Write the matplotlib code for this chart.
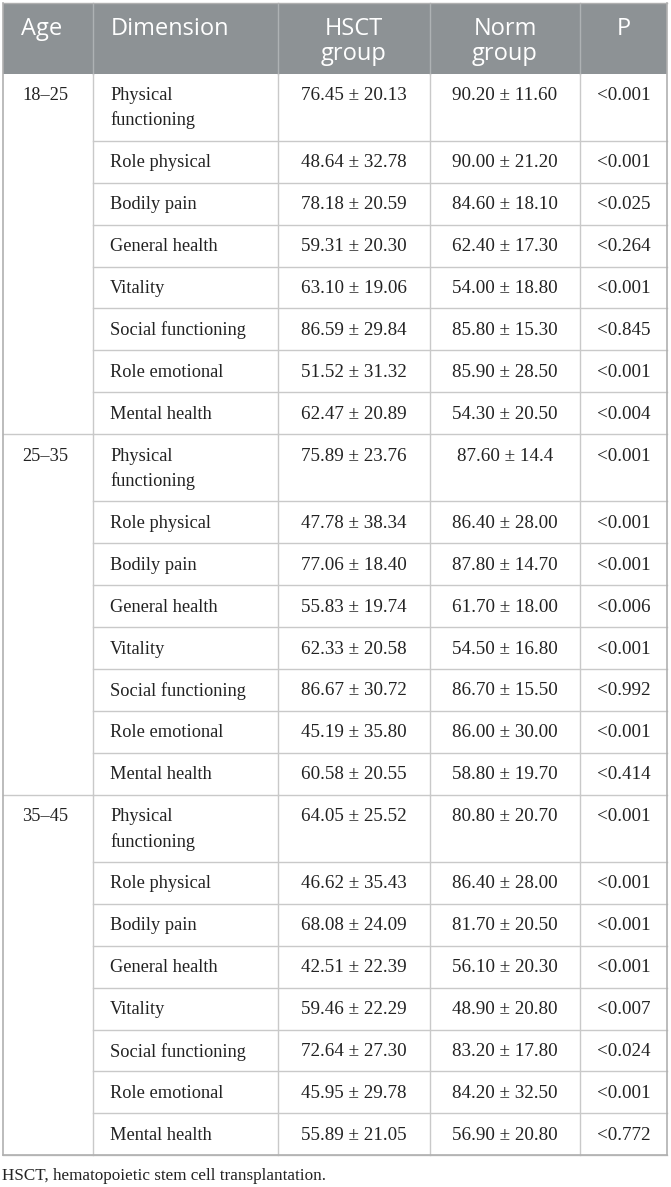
import matplotlib.pyplot as plt
from matplotlib.patches import Rectangle

ages = ["18\u201325", "25\u201335", "35\u201345"]
dimensions = ["Physical\nfunctioning", "Role physical", "Bodily pain", "General health",
              "Vitality", "Social functioning", "Role emotional", "Mental health"]
hsct = [
    ["76.45 \u00b1 20.13", "48.64 \u00b1 32.78", "78.18 \u00b1 20.59", "59.31 \u00b1 20.30",
     "63.10 \u00b1 19.06", "86.59 \u00b1 29.84", "51.52 \u00b1 31.32", "62.47 \u00b1 20.89"],
    ["75.89 \u00b1 23.76", "47.78 \u00b1 38.34", "77.06 \u00b1 18.40", "55.83 \u00b1 19.74",
     "62.33 \u00b1 20.58", "86.67 \u00b1 30.72", "45.19 \u00b1 35.80", "60.58 \u00b1 20.55"],
    ["64.05 \u00b1 25.52", "46.62 \u00b1 35.43", "68.08 \u00b1 24.09", "42.51 \u00b1 22.39",
     "59.46 \u00b1 22.29", "72.64 \u00b1 27.30", "45.95 \u00b1 29.78", "55.89 \u00b1 21.05"],
]
norm = [
    ["90.20 \u00b1 11.60", "90.00 \u00b1 21.20", "84.60 \u00b1 18.10", "62.40 \u00b1 17.30",
     "54.00 \u00b1 18.80", "85.80 \u00b1 15.30", "85.90 \u00b1 28.50", "54.30 \u00b1 20.50"],
    ["87.60 \u00b1 14.4", "86.40 \u00b1 28.00", "87.80 \u00b1 14.70", "61.70 \u00b1 18.00",
     "54.50 \u00b1 16.80", "86.70 \u00b1 15.50", "86.00 \u00b1 30.00", "58.80 \u00b1 19.70"],
    ["80.80 \u00b1 20.70", "86.40 \u00b1 28.00", "81.70 \u00b1 20.50", "56.10 \u00b1 20.30",
     "48.90 \u00b1 20.80", "83.20 \u00b1 17.80", "84.20 \u00b1 32.50", "56.90 \u00b1 20.80"],
]
pvals = [
    ["<0.001", "<0.001", "<0.025", "<0.264", "<0.001", "<0.845", "<0.001", "<0.004"],
    ["<0.001", "<0.001", "<0.001", "<0.006", "<0.001", "<0.992", "<0.001", "<0.414"],
    ["<0.001", "<0.001", "<0.001", "<0.001", "<0.007", "<0.024", "<0.001", "<0.772"],
]
headers = ["Age", "Dimension", "HSCT\ngroup", "Norm\ngroup", "P"]
footnote = "HSCT, hematopoietic stem cell transplantation."

W, H = 671, 1187
fig = plt.figure(figsize=(W / 100, H / 100), dpi=100)
ax = fig.add_axes([0, 0, 1, 1])
ax.set_xlim(0, W)
ax.set_ylim(H, 0)
ax.axis("off")

# column edges and layout
cols = [3, 93, 278, 430, 580, 667]
top, head_bot = 3, 73.5
row_h, first_h = 41.9, 67.3
line_gap = 25
grid = "#c9c9c9"
head_bg = "#8d9295"
serif = "Liberation Serif"
sans = "Open Sans"
fs = 13.2
fs_val = 13.7
txt = "#222222"

ax.add_patch(Rectangle((cols[0], top), cols[-1] - cols[0], head_bot - top,
                       facecolor=head_bg, edgecolor="none"))
for x in cols[1:-1]:
    ax.plot([x, x], [top, head_bot], color="#aeb2b4", lw=1.0)

# header text, one baseline per line
for i, h in enumerate(headers):
    for k, part in enumerate(h.split("\n")):
        yb = 35 + k * line_gap
        if i < 2:
            ax.text(cols[i] + 18, yb, part, ha="left", va="baseline", color="white",
                    family=sans, fontsize=17)
        else:
            ax.text((cols[i] + cols[i + 1]) / 2, yb, part, ha="center", va="baseline",
                    color="white", family=sans, fontsize=17)

# body
y = head_bot
for g, age in enumerate(ages):
    g_top = y
    for r, dim in enumerate(dimensions):
        h = first_h if r == 0 else row_h
        yc = y + 22
        if r == 0:
            ax.text(cols[0] + 19, yc, age, ha="left", va="center",
                    family=serif, fontsize=fs, color=txt)
        for k, part in enumerate(dim.split("\n")):
            ax.text(cols[1] + 17, yc + k * line_gap, part, ha="left", va="center",
                    family=serif, fontsize=fs, color=txt)
        ax.text((cols[2] + cols[3]) / 2, yc, hsct[g][r], ha="center", va="center",
                family=serif, fontsize=fs_val, color=txt)
        ax.text((cols[3] + cols[4]) / 2, yc, norm[g][r], ha="center", va="center",
                family=serif, fontsize=fs_val, color=txt)
        ax.text((cols[4] + cols[5]) / 2, yc, pvals[g][r], ha="center", va="center",
                family=serif, fontsize=fs_val, color=txt)
        y += h
        # line under each row; full width at the end of an age group
        x0 = cols[0] if r == len(dimensions) - 1 else cols[1]
        ax.plot([x0, cols[-1]], [y, y], color=grid, lw=1.0)
    for x in cols[1:-1]:
        ax.plot([x, x], [g_top, y], color=grid, lw=1.0)

# outer border
ax.plot([cols[0], cols[0]], [top, y], color="#b0b0b0", lw=1.2)
ax.plot([cols[-1], cols[-1]], [top, y], color="#b0b0b0", lw=1.2)
ax.plot([cols[0], cols[-1]], [top, top], color="#b0b0b0", lw=1.0)
ax.plot([cols[0], cols[-1]], [y, y], color="#b0b0b0", lw=1.2)

ax.text(2, y + 21, footnote, ha="left", va="center", family=serif,
        fontsize=12.3, color=txt)

fig.savefig("out.png", dpi=100)
